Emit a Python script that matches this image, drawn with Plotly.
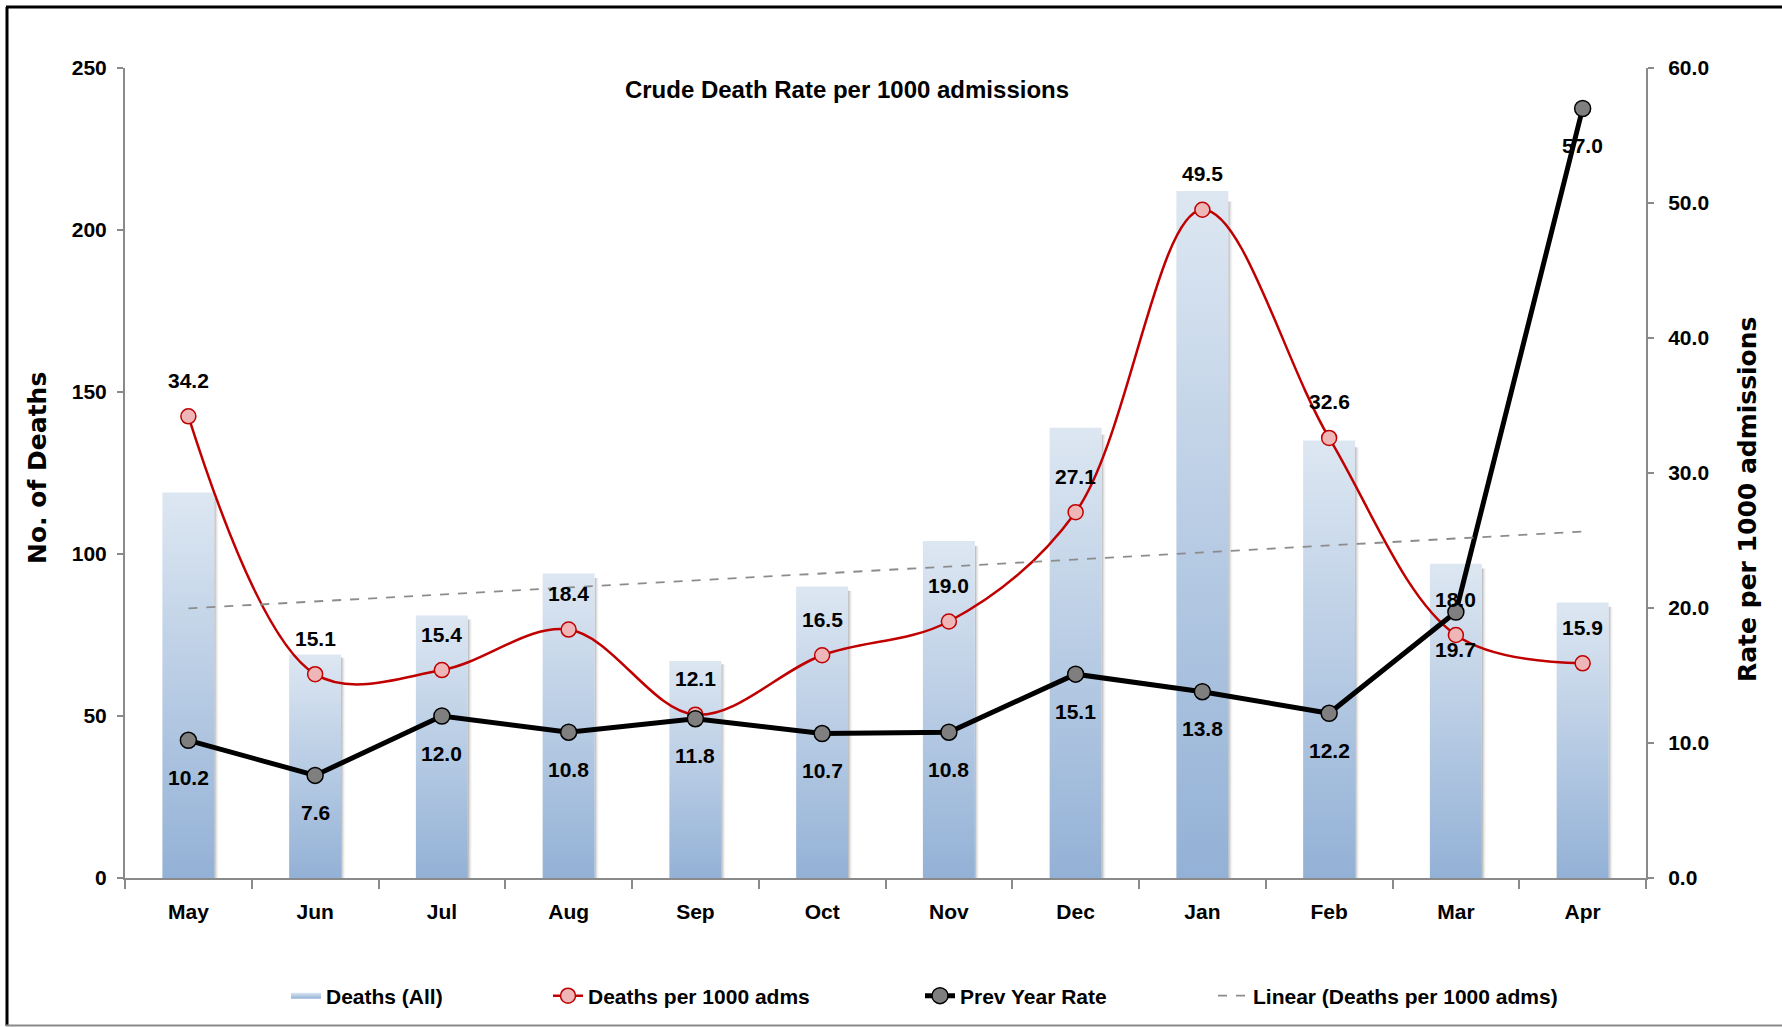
import numpy as np
import plotly.graph_objects as go

# ---- data -------------------------------------------------------------
months = ["May", "Jun", "Jul", "Aug", "Sep", "Oct", "Nov", "Dec", "Jan", "Feb", "Mar", "Apr"]
deaths_all = [119, 69, 81, 94, 67, 90, 104, 139, 212, 135, 97, 85]
deaths_per_1000 = [34.2, 15.1, 15.4, 18.4, 12.1, 16.5, 19.0, 27.1, 49.5, 32.6, 18.0, 15.9]
prev_year_rate = [10.2, 7.6, 12.0, 10.8, 11.8, 10.7, 10.8, 15.1, 13.8, 12.2, 19.7, 57.0]
left_ticks = [0, 50, 100, 150, 200, 250]
right_ticks = [0, 10, 20, 30, 40, 50, 60]

# ---- styling ----------------------------------------------------------
TEXT_FONT = "Liberation Sans, Arial, sans-serif"
WIDE = "DejaVu Sans, Verdana, sans-serif"
AXIS_GREY = "#8a8a8a"
RED = "#c00000"
RED_FILL = "#eeb6b6"
BAR_HALF = 0.205
SHADOW_W = 0.04

W, H = 1782, 1027
ML, MR, MT, MB = 125, 136, 68, 149
PW, PH = W - ML - MR, H - MT - MB


def px_x(p):
    return (p - ML) / PW


def px_y(p):
    return (H - MB - p) / PH


xpos = list(range(len(months)))

fig = go.Figure()

# soft shadow on the right edge of every column
for i, v in enumerate(deaths_all):
    x0 = i + BAR_HALF
    fig.add_trace(go.Scatter(
        x=[x0, x0, x0 + SHADOW_W, x0 + SHADOW_W, x0],
        y=[0, v * 0.985, v * 0.985, 0, 0],
        mode="none", fill="toself",
        fillcolor="rgba(120,120,120,0.25)",
        fillgradient=dict(type="horizontal",
                          colorscale=[[0, "rgba(105,105,105,0.55)"], [1, "rgba(255,255,255,0)"]]),
        showlegend=False, hoverinfo="skip",
    ))

# columns drawn with a vertical gradient (light top, darker base)
for i, v in enumerate(deaths_all):
    fig.add_trace(go.Scatter(
        x=[i - BAR_HALF, i - BAR_HALF, i + BAR_HALF, i + BAR_HALF, i - BAR_HALF],
        y=[0, v, v, 0, 0],
        mode="none",
        fill="toself",
        fillcolor="#b9cce4",
        fillgradient=dict(type="vertical",
                          colorscale=[[0, "#93b1d6"], [1, "#dde7f2"]]),
        name="Deaths (All)",
        legend="legend",
        legendgroup="deaths",
        showlegend=(i == 0),
        hovertemplate=f"{months[i]}: {v}<extra>Deaths (All)</extra>",
    ))

# smoothed rate line
fig.add_trace(go.Scatter(
    x=xpos, y=deaths_per_1000, yaxis="y2",
    mode="lines+markers",
    line=dict(color=RED, width=2.5, shape="spline", smoothing=1.0),
    marker=dict(size=15, color=RED_FILL, line=dict(color=RED, width=1.5)),
    name="Deaths per 1000 adms",
    legend="legend2",
))

# previous year rate
fig.add_trace(go.Scatter(
    x=xpos, y=prev_year_rate, yaxis="y2",
    mode="lines+markers",
    line=dict(color="black", width=5),
    marker=dict(size=16, color="#7f7f7f", line=dict(color="black", width=1.5)),
    name="Prev Year Rate",
    legend="legend3",
))

# linear trend of the rate series
slope, intercept = np.polyfit(np.array(xpos, dtype=float), np.array(deaths_per_1000), 1)
trend_x = [xpos[0], xpos[-1]]
trend_y = [intercept + slope * t for t in trend_x]
fig.add_trace(go.Scatter(
    x=trend_x, y=trend_y, yaxis="y2",
    mode="lines",
    line=dict(color="#8c8c8c", width=1.8, dash="dash"),
    name="Linear (Deaths per 1000 adms)",
    legend="legend4",
))

# value labels
label_font = dict(family=TEXT_FONT, size=21, color="black", weight="bold")
annotations = []
for i, v in enumerate(deaths_per_1000):
    annotations.append(dict(x=i, y=v, xref="x", yref="y2", text=f"{v:.1f}",
                            showarrow=False, yshift=36, font=label_font))
for i, v in enumerate(prev_year_rate):
    annotations.append(dict(x=i, y=v, xref="x", yref="y2", text=f"{v:.1f}",
                            showarrow=False, yshift=-37, font=label_font))

# axis titles
axis_title_font = dict(family=WIDE, size=25, color="black", weight="bold")
annotations.append(dict(text="No. of Deaths", xref="paper", yref="paper",
                        x=px_x(37), y=px_y(468), textangle=-90, showarrow=False,
                        xanchor="center", yanchor="middle", font=axis_title_font))
annotations.append(dict(text="Rate per 1000 admissions", xref="paper", yref="paper",
                        x=px_x(1747), y=px_y(500), textangle=-90, showarrow=False,
                        xanchor="center", yanchor="middle", font=axis_title_font))

legend_common = dict(orientation="h", yanchor="middle", y=px_y(996), xanchor="left",
                     bgcolor="rgba(0,0,0,0)", borderwidth=0,
                     font=dict(family=TEXT_FONT, size=21, color="black", weight="bold"))

tick_font = dict(family=TEXT_FONT, size=21, color="black", weight="bold")

fig.update_layout(
    width=W, height=H,
    margin=dict(l=ML, r=MR, t=MT, b=MB, autoexpand=False),
    paper_bgcolor="white", plot_bgcolor="white",
    title=dict(text="Crude Death Rate per 1000 admissions",
               x=847 / W, y=1 - 90 / H, xref="container", yref="container",
               xanchor="center", yanchor="middle",
               font=dict(family=TEXT_FONT, size=24, color="black", weight="bold")),
    xaxis=dict(range=[-0.5, 11.5], tickmode="array", tickvals=xpos, ticktext=months,
               ticks="", showline=True, linecolor=AXIS_GREY, linewidth=2,
               showgrid=False, zeroline=False, ticklabelstandoff=14,
               minor=dict(tickmode="array", tickvals=[p - 0.5 for p in xpos] + [xpos[-1] + 0.5],
                          ticks="outside", ticklen=9, tickwidth=2, tickcolor=AXIS_GREY,
                          showgrid=False),
               tickfont=tick_font),
    yaxis=dict(range=[0, 250], tickmode="array", tickvals=left_ticks,
               ticks="outside", ticklen=6, tickwidth=2, tickcolor=AXIS_GREY,
               showline=True, linecolor=AXIS_GREY, linewidth=2,
               showgrid=False, zeroline=False, ticklabelstandoff=6,
               tickfont=tick_font),
    yaxis2=dict(range=[0, 60], overlaying="y", side="right", tickmode="array",
                tickvals=right_ticks, tickformat=".1f",
                ticks="outside", ticklen=6, tickwidth=2, tickcolor=AXIS_GREY,
                showline=True, linecolor=AXIS_GREY, linewidth=2,
                showgrid=False, zeroline=False, ticklabelstandoff=10,
                tickfont=tick_font),
    legend=dict(legend_common, x=px_x(286)),
    legend2=dict(legend_common, x=px_x(548)),
    legend3=dict(legend_common, x=px_x(920)),
    legend4=dict(legend_common, x=px_x(1213)),
    annotations=annotations,
    shapes=[
        # chart frame: black left and top edges, grey base line
        dict(type="line", xref="paper", yref="paper",
             x0=px_x(7), x1=px_x(7), y0=px_y(1026), y1=px_y(7),
             line=dict(color="black", width=3), layer="below"),
        dict(type="line", xref="paper", yref="paper",
             x0=px_x(6), x1=px_x(W), y0=px_y(7), y1=px_y(7),
             line=dict(color="black", width=3), layer="below"),
        dict(type="line", xref="paper", yref="paper",
             x0=px_x(6), x1=px_x(W), y0=px_y(1025.5), y1=px_y(1025.5),
             line=dict(color="#8a8a8a", width=2), layer="below"),
    ],
    showlegend=True,
)

fig.write_html("out.html")
